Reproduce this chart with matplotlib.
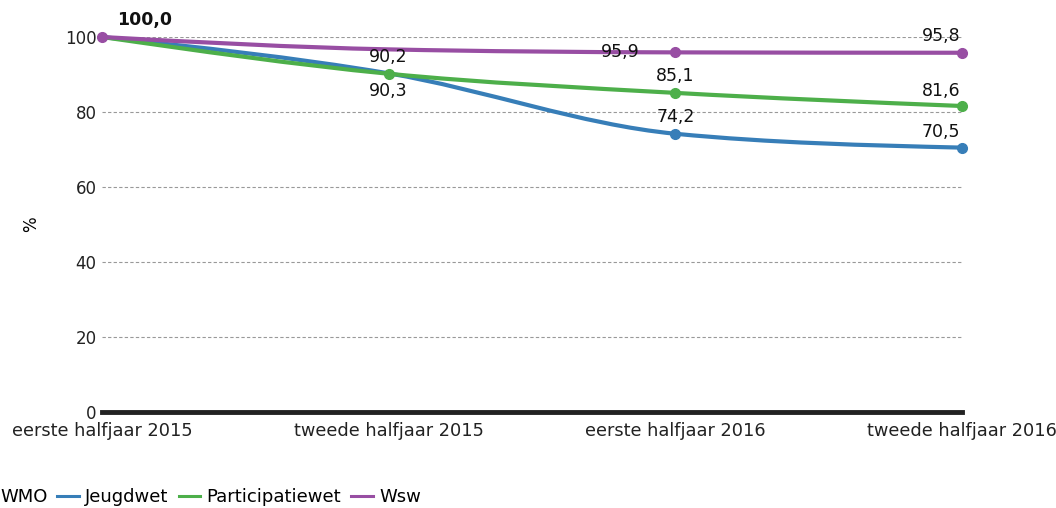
import numpy as np
import matplotlib.pyplot as plt
from matplotlib.path import Path
from matplotlib.patches import PathPatch
from matplotlib.lines import Line2D

# Gegevens
perioden = ['eerste halfjaar 2015', 'tweede halfjaar 2015', 'eerste halfjaar 2016', 'tweede halfjaar 2016']
jeugdwet = [100.0, 90.3, 74.2, 70.5]
participatiewet = [100.0, 90.2, 85.1, 81.6]
wsw = [100.0, 96.7, 95.9, 95.8]

kleuren = {'WMO': '#e41a1c', 'Jeugdwet': '#377eb8', 'Participatiewet': '#4daf4a', 'Wsw': '#984ea3'}


def monotone_pad(x, y):
    # vloeiende lijn (monotone cubic) als bezier-pad
    x = np.asarray(x, float)
    y = np.asarray(y, float)
    h = np.diff(x)
    s = np.diff(y) / h
    n = len(x)
    m = np.zeros(n)
    for i in range(1, n - 1):
        p = (s[i - 1] * h[i] + s[i] * h[i - 1]) / (h[i - 1] + h[i])
        m[i] = (np.sign(s[i - 1]) + np.sign(s[i])) * min(abs(s[i - 1]), abs(s[i]), 0.5 * abs(p))
    m[0] = (3 * s[0] - m[1]) / 2
    m[-1] = (3 * s[-1] - m[-2]) / 2
    verts = [(x[0], y[0])]
    codes = [Path.MOVETO]
    for i in range(n - 1):
        d = h[i] / 3
        verts += [(x[i] + d, y[i] + d * m[i]), (x[i + 1] - d, y[i + 1] - d * m[i + 1]), (x[i + 1], y[i + 1])]
        codes += [Path.CURVE4] * 3
    return Path(verts, codes)


fig = plt.figure(figsize=(10.56, 5.08), dpi=100)
ax = fig.add_axes([102 / 1056, 1 - 412 / 508, 860 / 1056, 375 / 508])

xs = np.arange(len(perioden))
reeksen = [('Jeugdwet', jeugdwet, [2, 3]),
           ('Participatiewet', participatiewet, [1, 2, 3]),
           ('Wsw', wsw, [0, 2, 3])]

for naam, waarden, punten in reeksen:
    kleur = kleuren[naam]
    ax.add_patch(PathPatch(monotone_pad(xs, waarden), facecolor='none', edgecolor=kleur,
                           lw=3, clip_on=False, zorder=3, capstyle='round'))
    ax.plot(xs[punten], np.array(waarden)[punten], 'o', color=kleur, ms=7, clip_on=False, zorder=4)

ax.set_xlim(0, 3)
ax.set_ylim(0, 100)
ax.set_yticks([0, 20, 40, 60, 80, 100])
ax.set_xticks(xs)
ax.set_xticklabels(perioden)
ax.tick_params(axis='both', length=0, labelsize=12, colors='#222222')
ax.tick_params(axis='x', labelsize=12.8, pad=7)
ax.tick_params(axis='y', pad=4)
ax.yaxis.grid(True, color='#999999', linestyle=(0, (3, 2)), linewidth=0.8)
ax.set_axisbelow(True)
for kant in ['top', 'right', 'left']:
    ax.spines[kant].set_visible(False)
ax.spines['bottom'].set_linewidth(3.5)
ax.spines['bottom'].set_color('#222222')
ax.spines['bottom'].set_zorder(5)
ax.set_ylabel('%', fontsize=12)
ax.yaxis.set_label_coords((40 - 102) / 860, 0.5)

# Waardelabels
def label(tekst, x, y, dx, dy, ha='center', **kw):
    ax.annotate(tekst, (x, y), xytext=(dx, dy), textcoords='offset points',
                ha=ha, va='center', fontsize=12.5, color='#111111', zorder=6, **kw)

label('100,0', 0, 100, 11, 12, ha='left', fontweight='bold')
label('90,2', 1, 90.2, 0, 12)
label('90,3', 1, 90.3, 0, -13)
label('95,9', 2, 95.9, -26, 0, ha='right')
label('85,1', 2, 85.1, 0, 12)
label('74,2', 2, 74.2, 0, 12)
label('95,8', 3, 95.8, -1, 12, ha='right')
label('81,6', 3, 81.6, -1, 11, ha='right')
label('70,5', 3, 70.5, -1, 11, ha='right')

# Legenda (WMO valt deels buiten beeld)
handles = [Line2D([], [], color=kleuren[k], lw=2.2) for k in kleuren]
fig.legend(handles, list(kleuren), loc='center left', bbox_to_anchor=(-28 / 1056, 1 - 497 / 508),
           ncol=4, frameon=False, fontsize=13, handlelength=1.2, handletextpad=0.35,
           columnspacing=0.55, borderpad=0, borderaxespad=0)

fig.savefig('out.png', dpi=100)
